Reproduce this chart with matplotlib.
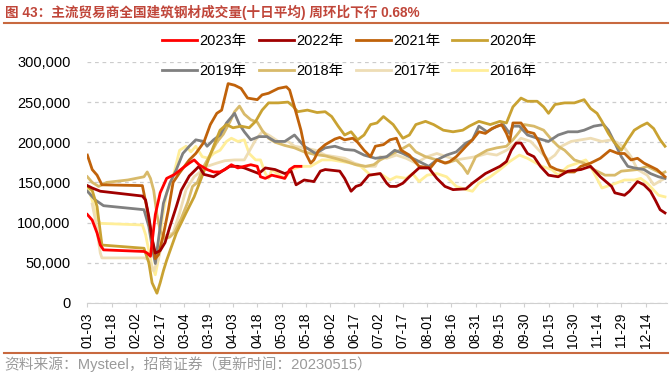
import matplotlib
matplotlib.use("Agg")
import matplotlib.pyplot as plt
from matplotlib.lines import Line2D
from matplotlib.ticker import FuncFormatter

plt.rcParams['font.family'] = ['Liberation Sans', 'Noto Sans CJK SC']

# x = days since 01-03, y = thousand tonnes (ten-day average)
d2023 = [0,3,6,8,10,35,37,39,42,45,49,54,59,63,66,69,74,78,82,85,89,93,97,101,105,107,110,114,118,122,125,128,132]
v2023 = [110,103,87,72,66,64,62,58,110,137,155,160,168,174,178,172,166,163,163,166,172,168,170,172,170,157,155,159,157,155,166,170,170]

d2022 = [0,3,8,34,36,38,40,42,45,48,51,55,58,63,69,72,78,84,88,93,97,106,110,116,122,126,129,134,140,144,
         147,156,159,163,166,169,174,181,185,187,191,195,199,205,211,216,221,226,234,238,242,246,251,255,259,262,265,268,272,276,
         280,285,291,297,305,311,317,324,326,332,335,340,344,348,351,354,357]
v2022 = [146,143,139,133,128,107,80,62,65,75,95,120,140,158,170,160,157,165,170,170,168,161,168,166,161,164,147,153,151,164,
         166,164,155,139,145,147,159,161,149,145,145,149,157,168,168,155,145,141,142,149,155,161,166,170,176,190,199,199,186,182,
         170,159,157,164,166,170,157,145,137,134,139,151,147,139,128,116,112]

d2021 = [0,3,6,9,34,37,40,42,44,47,50,53,57,60,63,67,72,76,80,83,87,91,95,99,105,108,112,114,118,123,
         125,128,132,135,138,140,143,147,153,156,159,164,167,171,175,178,183,187,191,194,199,205,212,216,221,224,228,234,238,242,
         246,250,256,259,261,263,268,272,276,279,282,286,290,296,301,305,311,317,323,328,332,336,340,344,348,352,357]
v2021 = [184,166,159,147,146,116,80,55,60,85,115,150,162,170,178,186,200,222,236,240,273,271,267,255,253,259,261,263,267,269,
         265,244,215,186,174,178,190,197,204,206,203,205,200,190,182,195,197,203,205,190,184,170,168,178,174,176,182,195,203,213,
         211,217,222,211,201,224,224,213,211,201,186,170,166,163,163,170,174,180,190,186,186,178,180,174,170,166,157]

d2020 = [0,3,6,9,35,38,40,43,45,47,49,55,61,66,70,74,78,82,86,90,95,100,104,108,112,118,124,127,130,136,
         142,147,151,155,159,163,167,171,175,179,183,189,195,199,203,209,214,220,226,232,236,242,249,255,259,263,268,272,278,282,
         285,289,295,301,307,311,315,318,322,326,330,334,338,342,346,350,354,357]
v2020 = [145,140,120,72,68,50,25,12,25,40,53,87,112,132,153,174,195,215,222,218,220,218,226,240,249,249,250,245,238,240,
         237,238,232,220,209,213,203,209,222,224,232,222,205,209,222,226,222,215,213,215,220,226,222,226,224,244,255,251,251,244,
         236,247,249,249,253,242,236,226,211,199,190,203,215,220,224,217,203,195]

d2019 = [0,5,10,35,38,40,42,45,47,51,55,59,63,67,72,74,78,82,86,91,94,97,101,106,111,116,122,128,134,141,
         147,153,159,165,171,178,185,190,195,201,207,211,216,222,228,234,238,242,247,253,257,261,263,267,272,278,285,291,297,303,
         307,313,319,322,326,330,334,338,344,348,353,357]
v2019 = [139,128,121,116,95,70,49,95,124,149,166,186,195,203,201,195,203,209,224,236,222,213,203,207,207,201,201,209,195,186,
         193,195,191,190,184,180,182,190,186,180,174,170,178,184,188,199,203,220,213,220,222,211,220,220,209,205,201,209,213,213,
         215,220,222,215,199,182,170,168,166,161,157,155]

d2018 = [0,3,7,12,25,35,37,39,41,43,45,48,51,54,58,62,65,68,72,76,80,84,88,91,94,97,101,105,108,112,
         116,122,128,134,140,147,153,160,166,172,177,181,187,193,199,203,209,216,222,228,232,235,240,247,253,259,263,267,270,276,
         282,287,291,295,301,307,313,320,326,330,340,346,350,355,357]
v2018 = [157,150,145,150,153,157,163,155,140,110,90,80,82,88,105,125,145,150,170,185,200,210,225,238,245,235,228,225,215,205,
         200,196,193,188,185,183,180,176,172,170,172,178,184,190,197,188,182,178,174,178,170,161,182,190,193,195,203,213,222,220,
         215,203,195,190,178,174,166,159,159,164,166,170,166,161,163]

d2017 = [3,5,8,9,35,38,41,44,47,53,57,61,66,74,80,85,91,97,104,108,112,118,124,128,134,141,147,153,159,165,
         171,178,181,185,191,197,203,210,216,222,228,234,240,247,253,259,265,268,274,281,285,289,293,299,305,311,318,324,328,332,
         336,340,346,350,355,357]
v2017 = [123,103,62,56,56,54,40,55,83,87,112,141,157,170,174,177,178,178,203,213,209,201,201,195,193,190,184,182,180,174,
         170,170,182,180,184,180,174,182,186,182,178,180,182,186,184,190,199,205,201,186,178,184,195,201,203,205,201,203,199,193,
         182,166,159,147,153,155]

d2016 = [0,3,6,8,34,36,38,40,42,44,46,49,53,57,61,64,67,71,75,78,82,86,89,93,97,100,104,107,110,112,
         114,118,122,126,132,138,145,151,157,163,169,175,181,187,191,197,201,205,210,216,222,228,234,238,242,249,255,261,267,272,
         281,287,291,297,303,308,311,318,324,332,338,342,346,353,357]
v2016 = [145,128,105,99,97,85,65,45,35,55,100,137,157,190,195,188,195,182,180,186,190,201,205,201,203,186,178,178,161,155,
         166,160,155,166,170,170,178,178,176,174,170,159,161,153,157,155,161,151,159,161,157,145,141,139,149,157,166,176,184,180,
         170,166,159,170,174,178,170,143,147,153,153,155,149,134,132]

years = ['2023年', '2022年', '2021年', '2020年', '2019年', '2018年', '2017年', '2016年']
colors = ['#FF0000', '#A00000', '#C0620A', '#C9A232', '#808080', '#D8BA6A', '#EEDDB5', '#FFEE99']
series = [(d2023, v2023), (d2022, v2022), (d2021, v2021), (d2020, v2020),
          (d2019, v2019), (d2018, v2018), (d2017, v2017), (d2016, v2016)]

tick_days = list(range(0, 346, 15))
tick_labels = ['01-03', '01-18', '02-02', '02-17', '03-04', '03-19', '04-03', '04-18',
               '05-03', '05-18', '06-02', '06-17', '07-02', '07-17', '08-01', '08-16',
               '08-31', '09-15', '09-30', '10-15', '10-30', '11-14', '11-29', '12-14']

title = '图 43：主流贸易商全国建筑钢材成交量(十日平均) 周环比下行 0.68%'
source = '资料来源：Mysteel，招商证券（更新时间：20230515）'

fig = plt.figure(figsize=(6.72, 3.73), dpi=100)
ax = fig.add_axes([0.130, 0.188, 0.862, 0.646])

handles = []
n = len(series)
for i, ((d, v), c, lab) in enumerate(zip(series, colors, years)):
    ln, = ax.plot(d, [x * 1000 for x in v], color=c, lw=2.0, label=lab, zorder=3 + n - i,
                  solid_joinstyle='round')
    handles.append(ln)

ax.set_xlim(0, 358)
ax.set_ylim(0, 300000)
ax.set_yticks(range(0, 300001, 50000))
ax.yaxis.set_major_formatter(FuncFormatter(lambda y, p: f'{y:,.0f}'))
ax.yaxis.grid(True, linestyle=(0, (3, 3)), color='#CCCCCC', lw=0.9)
ax.set_axisbelow(True)
ax.tick_params(axis='y', length=0, pad=12, labelsize=10.5)
ax.set_xticks(tick_days)
ax.set_xticklabels(tick_labels, rotation=90, fontsize=10)
ax.tick_params(axis='x', length=3, width=0.8, color='#D0D0D0', pad=4)
for s in ['top', 'right', 'left']:
    ax.spines[s].set_visible(False)
ax.spines['bottom'].set_color('#D0D0D0')

# legend fills column-wise, so interleave to get two rows of four
order = [0, 4, 1, 5, 2, 6, 3, 7]
fig.legend([handles[k] for k in order], [years[k] for k in order], ncol=4, loc='center',
           bbox_to_anchor=(0.52, 0.85), frameon=False,
           handlelength=2.4, handletextpad=0.15, columnspacing=0.85, labelspacing=1.05, fontsize=10.5)

fig.text(0.007, 0.968, title, fontsize=9.8, fontweight='bold', color='#C0463A', va='center')
fig.add_artist(Line2D([0.006, 0.994], [0.9375, 0.9375], color='#C8693F', lw=1.5))
fig.add_artist(Line2D([0.006, 0.994], [0.053, 0.053], color='#C8693F', lw=1.5))
fig.text(0.007, 0.024, source, fontsize=10.6, color='#9A9A9A', va='center')

fig.savefig('out.png', dpi=100)
